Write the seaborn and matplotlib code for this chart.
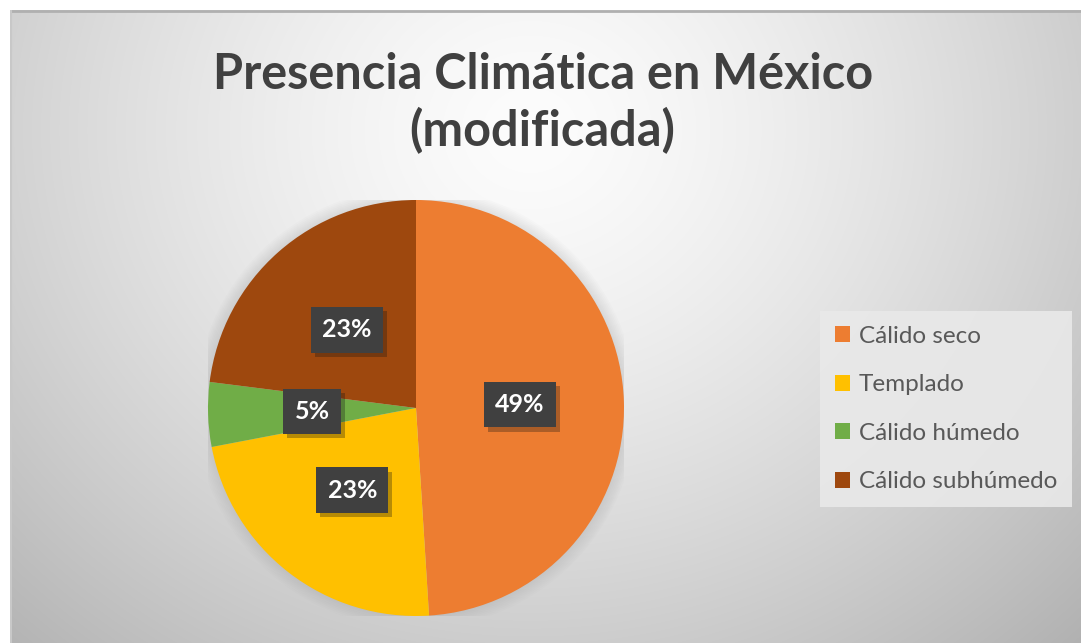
import matplotlib
matplotlib.use("Agg")
import matplotlib.pyplot as plt
import matplotlib.patheffects as pe
from matplotlib.patches import Circle
import numpy as np
import seaborn as sns

# data
categorias = ["Cálido seco", "Templado", "Cálido húmedo", "Cálido subhúmedo"]
porcentajes = [49, 23, 5, 23]
colores = ["#ED7D31", "#FFC000", "#70AD47", "#9E480E"]
titulo = "Presencia Climática en México\n(modificada)"

sns.set_theme(style="white")
plt.rcParams["font.family"] = ["Lato", "DejaVu Sans"]

fig = plt.figure(figsize=(10.81, 6.43), dpi=100)
fig.patch.set_facecolor("white")

# gradient background (chart area)
bg = fig.add_axes([10 / 1081, 0, 1 - 10 / 1081, 1 - 10 / 643])
bg.set_axis_off()
h, w = 633, 1071
yy, xx = np.mgrid[0:h, 0:w]
d = np.sqrt(((xx - 520) / 620.0) ** 2 + ((yy - 120) / 560.0) ** 2)
val = 0.99 - 0.21 * np.clip(d, 0, 1.3) ** 1.4
bg.imshow(np.dstack([val, val, val]), aspect="auto", extent=[0, 1, 0, 1])
bg.set_xlim(0, 1)
bg.set_ylim(0, 1)
bg.plot([0, 1], [0.999, 0.999], color="#b0b0b0", lw=2)
bg.plot([0.001, 0.001], [0, 1], color="#c8c8c8", lw=1.5)

# title
fig.text(0.502, 0.84, titulo, ha="center", va="center", fontsize=35,
         fontweight="bold", color="#404040", linespacing=1.25)

# pie
ax = fig.add_axes([208 / 1081, 27 / 643, 416 / 1081, 416 / 643])
for r in np.linspace(1.06, 1.005, 8):
    ax.add_patch(Circle((0, 0), r, facecolor="#808080", edgecolor="none", alpha=0.025))
wedges, texts, autotexts = ax.pie(
    porcentajes, colors=colores, startangle=90, counterclock=False,
    autopct=lambda p: f"{p:.0f}%", pctdistance=0.5,
    wedgeprops=dict(linewidth=0))
for t in autotexts:
    t.set_color("white")
    t.set_fontsize(18)
    t.set_fontweight("bold")
    t.set_bbox(dict(boxstyle="square,pad=0.45", facecolor="#404040",
                    edgecolor="none",
                    path_effects=[pe.withSimplePatchShadow(offset=(3, -3), alpha=0.3)]))
ax.set_xlim(-1, 1)
ax.set_ylim(-1, 1)
ax.set_aspect("equal")

# legend
leg = fig.legend(wedges, categorias, loc="center left",
                 bbox_to_anchor=(820 / 1081, 1 - 409 / 643),
                 frameon=True, fontsize=17.5, labelspacing=1.13,
                 handlelength=0.65, handleheight=0.65, handletextpad=0.35,
                 borderpad=0.6, borderaxespad=0, fancybox=False)
leg.get_frame().set_facecolor("#e9e9e9")
leg.get_frame().set_edgecolor("none")
leg.get_frame().set_alpha(0.9)
for t in leg.get_texts():
    t.set_color("#595959")

fig.savefig("out.png", dpi=100)
